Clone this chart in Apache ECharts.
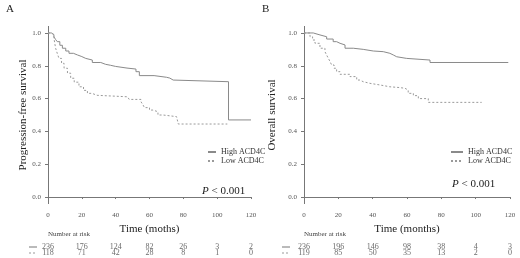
<!DOCTYPE html>
<html><head><meta charset="utf-8">
<script src="https://cdn.jsdelivr.net/npm/echarts@6/dist/echarts.min.js"></script>
<style>html,body{margin:0;padding:0;background:#fff}#c{width:520px;height:258px}</style>
</head><body><div id="c"></div>
<script>
const seriesNames = ['High ACD4C', 'Low ACD4C'];
const xTicks = [0, 20, 40, 60, 80, 100, 120];
const yTicks = [0, 0.2, 0.4, 0.6, 0.8, 1.0];
// Panel A: progression-free survival [month, survival]
const highA = [[0,1],[2,0.99],[3.5,0.977],[4.5,0.96],[5.5,0.947],[7,0.925],[8.5,0.907],[10.5,0.89],[12.4,0.876],[15,0.866],[17.4,0.856],[20,0.845],[22.3,0.835],[26.2,0.82],[31.2,0.809],[34,0.803],[37,0.796],[40,0.786],[46.7,0.78],[52,0.764],[54,0.74],[62.7,0.73],[70,0.725],[72,0.713],[74,0.703],[106.7,0.47],[120,0.47]];
const lowA = [[0,1],[2,0.99],[3.5,0.968],[4.5,0.907],[5.5,0.875],[6.5,0.845],[8,0.815],[9.5,0.785],[11.5,0.755],[13.4,0.724],[15.5,0.70],[18.3,0.672],[21,0.65],[23.3,0.632],[26,0.62],[29,0.611],[47,0.605],[48,0.595],[55,0.58],[56,0.565],[57,0.545],[60,0.53],[62,0.52],[65,0.50],[68,0.49],[76,0.48],[77,0.445],[106,0.445]];
// Panel B: overall survival
const highB = [[0,1],[5.4,0.988],[9.3,0.977],[13.2,0.963],[17,0.947],[19,0.937],[21,0.927],[23.9,0.907],[28.7,0.9],[34.5,0.89],[40.4,0.886],[46.2,0.876],[50,0.866],[52,0.855],[54,0.845],[59.8,0.835],[73.4,0.82],[119,0.82]];
const lowB = [[0,1],[3.5,0.977],[5,0.957],[6.4,0.937],[9.3,0.907],[12.2,0.886],[13.2,0.865],[14.2,0.845],[15.2,0.825],[16.1,0.805],[17.5,0.785],[19,0.764],[21,0.748],[26.8,0.734],[30.7,0.713],[32.5,0.703],[34.5,0.693],[38.4,0.683],[44.3,0.672],[50,0.667],[55.9,0.663],[58.8,0.652],[60.7,0.632],[63.7,0.618],[66.6,0.60],[72.4,0.577],[103.5,0.577]];
// Number at risk
const riskTimes = [0, 20, 40, 60, 80, 100, 120];
const riskHighA = [236, 176, 124, 82, 26, 3, 2];
const riskLowA = [118, 71, 42, 28, 8, 1, 0];
const riskHighB = [236, 196, 146, 98, 38, 4, 3];
const riskLowB = [119, 85, 50, 35, 13, 2, 0];

const FONT = 'Liberation Serif';
const chart = echarts.init(document.getElementById('c'));

function xAx(grid, show, name) {
  return {
    type: 'value', gridIndex: grid, min: 0, max: 120, interval: 20, show: show,
    name: name, nameLocation: 'middle', nameGap: 17,
    nameTextStyle: {fontFamily: FONT, fontSize: 11, color: '#222'},
    axisLine: {lineStyle: {color: '#777', width: 1}},
    axisTick: {length: 2, lineStyle: {color: '#777'}},
    axisLabel: {fontFamily: FONT, fontSize: 7, color: '#555', margin: 8},
    splitLine: {show: false}
  };
}
function yAx(grid, name, gap) {
  return {
    type: 'value', gridIndex: grid, min: -0.04, max: 1.04,
    name: name, nameLocation: 'middle', nameGap: gap,
    nameTextStyle: {fontFamily: FONT, fontSize: 11, color: '#222'},
    axisLine: {show: true, lineStyle: {color: '#777', width: 1}},
    axisTick: {show: true, length: 3, customValues: yTicks, lineStyle: {color: '#777'}},
    axisLabel: {fontFamily: FONT, fontSize: 7, color: '#555', margin: 7, customValues: yTicks,
      formatter: v => v.toFixed(1)},
    splitLine: {show: false}
  };
}
function riskY(grid) {
  return {type: 'category', gridIndex: grid, data: ['h', 'l'], inverse: true, show: false};
}
function km(name, data, xi, dashed) {
  return {
    type: 'line', name: name, xAxisIndex: xi, yAxisIndex: xi, data: data, step: 'end',
    showSymbol: false, symbol: 'none', animation: false,
    lineStyle: {color: dashed ? '#9a9a9a' : '#8a8a8a', width: 1, type: dashed ? [2, 2] : 'solid'},
    itemStyle: {color: dashed ? '#9a9a9a' : '#8a8a8a'}
  };
}
function risk(vals, xi, row) {
  return {
    type: 'scatter', xAxisIndex: xi, yAxisIndex: xi, symbolSize: 1, animation: false,
    itemStyle: {color: 'rgba(0,0,0,0)'}, silent: true,
    data: riskTimes.map((t, i) => [t, row, vals[i]]),
    label: {show: true, position: 'inside', formatter: p => String(p.value[2]),
      fontFamily: FONT, fontSize: 8, color: '#444'}
  };
}
function legend(left, top, w) {
  return {
    orient: 'vertical', left: left, top: top, padding: 0, itemWidth: w, itemHeight: 7, itemGap: 1,
    data: seriesNames, selectedMode: false,
    itemStyle: {opacity: 0, borderWidth: 0},
    textStyle: {fontFamily: FONT, fontSize: 8, color: '#333'}
  };
}
function txt(x, y, t, size, color, extra) {
  return Object.assign({type: 'text', x: x, y: y, silent: true,
    style: {text: t, fontFamily: FONT, fontSize: size, fill: color, verticalAlign: 'middle'}}, extra || {});
}
function ln(x1, x2, y, dashed) {
  return {type: 'line', silent: true, shape: {x1: x1, y1: y, x2: x2, y2: y},
    style: {stroke: dashed ? '#999' : '#777', lineWidth: 1, lineDash: dashed ? [2, 2] : null}};
}
function pText(x, y) {
  return {type: 'text', x: x, y: y, silent: true,
    style: {text: '{i|P} < 0.001', fontFamily: FONT, fontSize: 11, fill: '#222', verticalAlign: 'middle',
      rich: {i: {fontFamily: FONT, fontSize: 11, fontStyle: 'italic', fill: '#222'}}}};
}

chart.setOption({
  backgroundColor: '#fff',
  animation: false,
  grid: [
    {left: 48, width: 203, top: 26.4, height: 177.2},
    {left: 304, width: 206, top: 26.4, height: 177.2},
    {left: 48, width: 203, top: 244, height: 12},
    {left: 304, width: 206, top: 244, height: 12}
  ],
  xAxis: [xAx(0, true, 'Time (moths)'), xAx(1, true, 'Time (months)'), xAx(2, false), xAx(3, false)],
  yAxis: [yAx(0, 'Progression-free survival', 19), yAx(1, 'Overall survival', 26), riskY(2), riskY(3)],
  legend: [legend(207, 148, 8), legend(450, 148, 12)],
  series: [
    km(seriesNames[0], highA, 0, false), km(seriesNames[1], lowA, 0, true),
    km(seriesNames[0], highB, 1, false), km(seriesNames[1], lowB, 1, true),
    risk(riskHighA, 2, 'h'), risk(riskLowA, 2, 'l'),
    risk(riskHighB, 3, 'h'), risk(riskLowB, 3, 'l')
  ],
  graphic: [
    txt(6, 9, 'A', 11, '#222'), txt(262, 9, 'B', 11, '#222'),
    txt(48, 234, 'Number at risk', 7, '#444'), txt(304, 234, 'Number at risk', 7, '#444'),
    ln(29, 37, 247, false), ln(29, 37, 253, true),
    ln(282, 290, 247, false), ln(282, 290, 253, true),
    pText(202, 191), pText(452, 184)
  ]
});
</script></body></html>
